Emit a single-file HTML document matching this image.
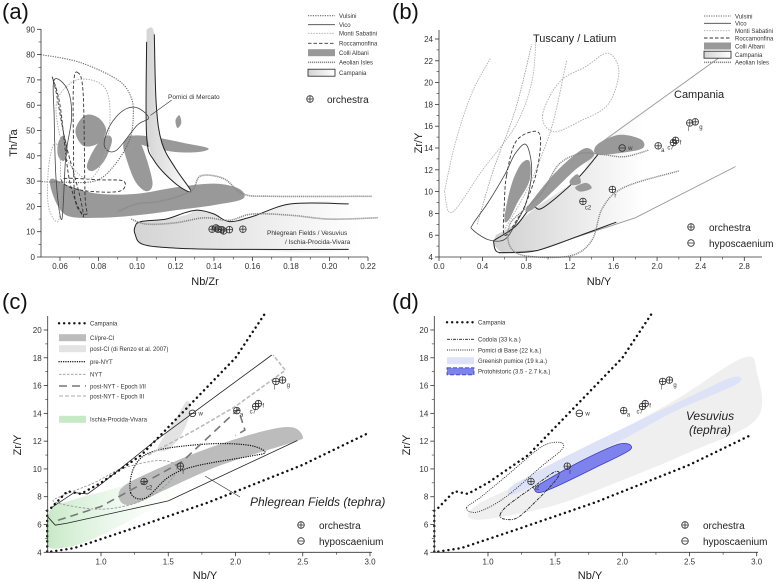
<!DOCTYPE html>
<html><head><meta charset="utf-8"><style>
html,body{margin:0;padding:0;background:#fff}
svg{display:block;font-family:"Liberation Sans",sans-serif}
</style></head><body>
<svg id="fig" width="779" height="582" viewBox="0 0 779 582" xmlns="http://www.w3.org/2000/svg">
<defs>
<linearGradient id="gCamp" x1="0" x2="1" y1="0" y2="0"><stop offset="0" stop-color="#d4d4d4"/><stop offset="1" stop-color="#ffffff"/></linearGradient>
<linearGradient id="gGreen" x1="0" x2="1" y1="0" y2="0"><stop offset="0" stop-color="#c6e9c6"/><stop offset="1" stop-color="#ffffff" stop-opacity="0"/></linearGradient>
<linearGradient id="gCampB" x1="0" x2="1" y1="0" y2="0"><stop offset="0" stop-color="#d0d0d0"/><stop offset="0.6" stop-color="#ffffff"/><stop offset="1" stop-color="#ffffff"/></linearGradient>
</defs>
<g id="layer"></g>
</svg>
<script>
// ---------- data ----------
var sampleNames = ['w','a','c7','f','l','g','r','c2'];
var sampleNbY = [1.68,2.01,2.15,2.17,2.30,2.35,1.59,1.32];
var sampleZrY = [14.0,14.2,14.5,14.7,16.3,16.4,10.2,9.1];
var sampleType = ['hypo','orch','orch','orch','orch','orch','orch','orch'];
var aNbZr = [0.139,0.141,0.142,0.144,0.145,0.148,0.155];
var aThTa = [11.0,11.5,11.0,10.8,10.3,10.8,11.0];
var aXTicks = [0.06,0.08,0.10,0.12,0.14,0.16,0.18,0.20,0.22];
var aYTicks = [0,10,20,30,40,50,60,70,80,90];
var bXTicks = [0.0,0.4,0.8,1.2,1.6,2.0,2.4,2.8];
var bYTicks = [4,6,8,10,12,14,16,18,20,22,24];
var cXTicks = [1.0,1.5,2.0,2.5,3.0];
var cYTicks = [4,6,8,10,12,14,16,18,20];

var NS='http://www.w3.org/2000/svg';
var layer=document.getElementById('layer');
function el(tag,attrs,parent){var e=document.createElementNS(NS,tag);for(var k in attrs)e.setAttribute(k,attrs[k]);(parent||layer).appendChild(e);return e;}
function txt(s,x,y,size,attrs,parent){var a={x:x,y:y,'font-size':size,fill:'#222'};for(var k in attrs)a[k]=attrs[k];var t=el('text',a,parent);t.textContent=s;return t;}
function axis(dx0,px0,dx1,px1,dy0,py0,dy1,py1){
  return {x:function(v){return px0+(v-dx0)*(px1-px0)/(dx1-dx0);},y:function(v){return py0+(v-dy0)*(py1-py0)/(dy1-dy0);}};
}
var A=axis(0.06,60,0.22,368,0,257,90,29.3);
var B=axis(0,439,2.8,744.3,4,257,24,39);
var C=axis(1.0,101,3.0,370,4,552.3,20,330);
var D=axis(1.0,488,3.0,756.7,4,552.3,20,330);
function smooth(ax,pts,closed){
  var p=pts.map(function(q){return [ax.x(q[0]),ax.y(q[1])];});
  var n=p.length,d='M'+p[0][0].toFixed(1)+' '+p[0][1].toFixed(1);
  var segs=closed?n:n-1;
  for(var i=0;i<segs;i++){
    var p0=p[closed?(i-1+n)%n:Math.max(i-1,0)],p1=p[i],p2=p[(i+1)%n],p3=p[closed?(i+2)%n:Math.min(i+2,n-1)];
    var c1=[p1[0]+(p2[0]-p0[0])/6,p1[1]+(p2[1]-p0[1])/6],c2=[p2[0]-(p3[0]-p1[0])/6,p2[1]-(p3[1]-p1[1])/6];
    d+='C'+c1[0].toFixed(1)+' '+c1[1].toFixed(1)+' '+c2[0].toFixed(1)+' '+c2[1].toFixed(1)+' '+p2[0].toFixed(1)+' '+p2[1].toFixed(1);
  }
  if(closed)d+='Z';return d;
}
function poly(ax,pts){return 'M'+pts.map(function(q){return ax.x(q[0]).toFixed(1)+' '+ax.y(q[1]).toFixed(1);}).join('L');}
function shape(name,d,style,parent){var a={d:d,fill:'none'};for(var k in style)a[k]=style[k];var e=el('path',a,parent);
  
  
  return e;}
function frame(name,ax,left,right,bottom,top,xt,yt,xfmt,yfmt){
  var g=el('g',{});
  
  
  el('line',{x1:left,y1:bottom,x2:right,y2:bottom,stroke:'#333','stroke-width':0.8},g);
  el('line',{x1:left,y1:bottom,x2:left,y2:top,stroke:'#333','stroke-width':0.8},g);
  xt.forEach(function(v){var x=ax.x(v);el('line',{x1:x,y1:bottom,x2:x,y2:bottom+4,stroke:'#333','stroke-width':0.8},g);
    txt(xfmt(v),x,bottom+12,8,{'text-anchor':'middle',fill:'#333'},g);});
  yt.forEach(function(v){var y=ax.y(v);el('line',{x1:left-4,y1:y,x2:left,y2:y,stroke:'#333','stroke-width':0.8},g);
    txt(yfmt(v),left-6,y+3,8,{'text-anchor':'end',fill:'#333'},g);});
  for(var i=0;i<xt.length-1;i++){var x=(ax.x(xt[i])+ax.x(xt[i+1]))/2;el('line',{x1:x,y1:bottom,x2:x,y2:bottom+2.5,stroke:'#333','stroke-width':0.6},g);}
  for(var j=0;j<yt.length-1;j++){var y=(ax.y(yt[j])+ax.y(yt[j+1]))/2;el('line',{x1:left-2.5,y1:y,x2:left,y2:y,stroke:'#333','stroke-width':0.6},g);}
  return g;
}
function sym(x,y,type,parent){
  var g=el('g',{},parent);
  el('circle',{cx:x,cy:y,r:3.3,fill:'none',stroke:'#333','stroke-width':0.8},g);
  el('line',{x1:x-3.3,y1:y,x2:x+3.3,y2:y,stroke:'#333','stroke-width':0.8},g);
  if(type==='orch')el('line',{x1:x,y1:y-3.3,x2:x,y2:y+3.3,stroke:'#333','stroke-width':0.8},g);
  return g;
}
var labOff={w:[6,2],a:[3,6],c7:[-6,7],f:[4,4],l:[-2,8],g:[4,7],r:[2,8],c2:[2,8]};
function samples(ax,name){
  var g=el('g',{});
  
  
  for(var i=0;i<sampleNames.length;i++){
    var x=ax.x(sampleNbY[i]),y=ax.y(sampleZrY[i]);
    var s=sym(x,y,sampleType[i],g);
    
    
    var o=labOff[sampleNames[i]];
    txt(sampleNames[i],x+o[0],y+o[1],6,{fill:'#333'},g);
  }
}
function symLegend(name,x,y){
  var g=el('g',{});
  
  
  sym(x,y,'orch',g);txt('orchestra',x+18,y+4,10,{fill:'#222'},g);
  sym(x,y+16,'hypo',g);txt('hyposcaenium',x+18,y+20,10,{fill:'#222'},g);
  return g;
}
function legRow(g,x,y,style,label,box){
  if(box){var r=el('rect',{x:x,y:y-3.5,width:27,height:7},g);for(var k in box)r.setAttribute(k,box[k]);}
  else{var a={x1:x,y1:y,x2:x+27,y2:y};for(var k2 in style)a[k2]=style[k2];el('line',a,g);}
  txt(label,x+31,y+2.3,6,{fill:'#333'},g);
}
var S={
  vuls:{stroke:'#666','stroke-width':1.1,'stroke-dasharray':'1.2 1.2'},
  vico:{stroke:'#444','stroke-width':0.8},
  sab:{stroke:'#aaa','stroke-width':0.9,'stroke-dasharray':'1.5 1.2'},
  rocca:{stroke:'#333','stroke-width':0.9,'stroke-dasharray':'3.5 2'},
  aeol:{stroke:'#888','stroke-width':1.6,'stroke-dasharray':'1.2 0.8'},
  camp:{stroke:'#222','stroke-width':1},
  campDot:{stroke:'#111','stroke-width':2.4,'stroke-dasharray':'0.1 5','stroke-linecap':'round'},
  fineDot:{stroke:'#111','stroke-width':1.3,'stroke-dasharray':'0.1 2.2','stroke-linecap':'round'},
  albani:{fill:'#999',stroke:'none'}
};

// ================= Panel A =================
txt('(a)',2,19,22,{fill:'#111'});
var gA=el('g',{});


shape('campania-lower-field',smooth(A,[[0.099,12],[0.102,14],[0.115,15],[0.125,16.5],[0.132,18.5],[0.14,17],[0.148,14],[0.16,16],[0.18,21],[0.21,20.5],[0.21,3],[0.15,3],[0.12,3.5],[0.103,5],[0.099,9]],true),{fill:'url(#gCamp)',stroke:'none'},gA);
shape('campania-lower-outline',smooth(A,[[0.21,3],[0.15,3],[0.12,3.5],[0.103,5],[0.099,9],[0.099,12],[0.102,14],[0.115,15],[0.125,17.5],[0.132,18.5],[0.14,17],[0.148,14],[0.16,16],[0.18,21],[0.21,21]],false),S.camp,gA);
shape('colli-albani-band',smooth(A,[[0.056,31],[0.065,28],[0.08,25],[0.1,25],[0.12,27.5],[0.14,29],[0.153,27],[0.155,23],[0.14,20.5],[0.12,18.5],[0.1,16.5],[0.08,15.5],[0.065,16],[0.059,20],[0.055,28]],true),S.albani,gA);
shape('colli-albani-blob1',smooth(A,[[0.068,50],[0.073,56],[0.08,55],[0.084,50],[0.08,45],[0.072,44]],true),S.albani,gA);
shape('colli-albani-blob2',smooth(A,[[0.074,36],[0.078,43],[0.084,48],[0.087,46],[0.083,38],[0.077,34]],true),S.albani,gA);
shape('colli-albani-blob3',smooth(A,[[0.093,45],[0.097,48],[0.102,45],[0.108,30],[0.105,26],[0.099,30],[0.094,40]],true),S.albani,gA);
shape('colli-albani-blob4',smooth(A,[[0.098,48],[0.108,47.5],[0.125,45],[0.137,43],[0.132,41.5],[0.12,41.5],[0.106,43.5],[0.098,46]],true),S.albani,gA);
shape('colli-albani-blob5',smooth(A,[[0.059,45],[0.062,48],[0.064,42],[0.062,38],[0.059,40]],true),S.albani,gA);
shape('colli-albani-blob6',smooth(A,[[0.12,54],[0.122,56],[0.123,53],[0.121,51]],true),S.albani,gA);
shape('pomici-di-mercato',smooth(A,[[0.105,90],[0.109,88],[0.11,60],[0.113,45],[0.12,35],[0.128,26],[0.12,29],[0.109,38],[0.105,48]],false)+'Z',{fill:'url(#gCamp)',stroke:'none'},gA);
shape('pomici-outline',smooth(A,[[0.105,85],[0.105,48],[0.109,38],[0.12,29],[0.128,26],[0.12,35],[0.113,45],[0.11,60],[0.109,88]],false),S.camp,gA);
shape('vulsini-line',smooth(A,[[0.05,80],[0.07,77],[0.09,70],[0.097,63],[0.098,55],[0.096,46],[0.088,36],[0.078,30],[0.06,29.6],[0.05,29.8]],false),S.vuls,gA);
shape('vico-loop',smooth(A,[[0.089,42],[0.1,52],[0.106,55],[0.1,59],[0.093,58],[0.086,52],[0.083,44]],true),S.vico,gA);
shape('vico-loop2',smooth(A,[[0.057,70],[0.064,66],[0.066,55],[0.063,40],[0.061,15],[0.058,30],[0.057,55]],true),S.vico,gA);
shape('rocca-loop1',smooth(A,[[0.056,71],[0.06,60],[0.065,30],[0.072,16],[0.07,25],[0.063,45],[0.058,65]],true),S.rocca,gA);
shape('rocca-loop2',smooth(A,[[0.069,73],[0.072,65],[0.073,25],[0.074,17],[0.068,22],[0.067,45],[0.067,68]],true),S.rocca,gA);
shape('rocca-loop3',smooth(A,[[0.062,31],[0.08,30.5],[0.093,30],[0.091,26],[0.075,26],[0.064,28]],true),S.rocca,gA);
shape('sabatini-loop',smooth(A,[[0.058,60],[0.066,69],[0.076,70],[0.084,66],[0.086,55],[0.083,40],[0.076,31],[0.068,34],[0.062,42]],true),S.sab,gA);
shape('sabatini-loop2',smooth(A,[[0.057,45],[0.06,40],[0.06,25],[0.059,14],[0.054,20],[0.054,35]],true),S.sab,gA);
shape('aeolian-upper',smooth(A,[[0.09,18],[0.1,21],[0.112,22],[0.128,26],[0.133,32],[0.145,31],[0.155,25],[0.17,24],[0.222,24]],false),S.aeol,gA);
shape('aeolian-lower',smooth(A,[[0.097,15],[0.105,13],[0.12,13.5],[0.135,15.5],[0.148,14.5],[0.16,17],[0.18,16.5],[0.2,15],[0.225,15.5]],false),S.aeol,gA);
frame('panel-a-axes',A,41,368,257,29,aXTicks,aYTicks,function(v){return v.toFixed(2);},function(v){return String(v);});
el('line',{x1:A.x(0.107),y1:A.y(56),x2:A.x(0.118),y2:A.y(62),stroke:'#333','stroke-width':0.6},gA);
txt('Pomici di Mercato',168,99,6.5,{fill:'#333'},gA);
txt('Phlegrean Fields / Vesuvius',267,235,6.5,{fill:'#333'},gA);
txt('/ Ischia-Procida-Vivara',285,244,6.5,{fill:'#333'},gA);
for(var i=0;i<aNbZr.length;i++){var s=sym(A.x(aNbZr[i]),A.y(aThTa[i]),'orch',gA);
  
  }
txt('Nb/Zr',205,285,11,{'text-anchor':'middle'});
txt('Th/Ta',0,0,11,{'text-anchor':'middle',transform:'translate(17,143) rotate(-90)'});
var lA=el('g',{});


legRow(lA,308,15.7,S.vuls,'Vulsini');legRow(lA,308,24.7,S.vico,'Vico');legRow(lA,308,33.3,S.sab,'Monti Sabatini');
legRow(lA,308,43.3,S.rocca,'Roccamonfina');legRow(lA,308,52.7,null,'Colli Albani',{fill:'#999'});
legRow(lA,308,62.3,S.aeol,'Aeolian Isles');legRow(lA,308,72.7,null,'Campania',{fill:'url(#gCamp)',stroke:'#222','stroke-width':0.8});
var oA=el('g',{});


sym(310,99,'orch',oA);txt('orchestra',327,103,10,{},oA);

// ================= Panel B =================
txt('(b)',392,19,22,{fill:'#111'});
var gB=el('g',{});


shape('campania-field',smooth(B,[[0.5,5.2],[0.6,4.4],[0.9,4.7],[1.3,6],[1.8,7.6],[2.72,12.3],[2.6,22.5],[1.5,14.5],[1.3,11.5],[0.9,8.6],[0.7,7],[0.52,6]],false)+'Z',{fill:'url(#gCampB)',stroke:'none'},gB);
shape('campania-lower-line',poly(B,[[0.55,4.35],[0.9,4.6],[1.3,5.95],[1.8,7.6],[2.72,12.3]]),{stroke:'#999','stroke-width':0.9},gB);
shape('campania-upper-line',poly(B,[[1.5,14.6],[2.6,22.5]]),{stroke:'#999','stroke-width':0.9},gB);
shape('campania-outline',smooth(B,[[0.5,5.5],[0.52,4.6],[0.6,4.4],[0.9,4.6],[1.3,6],[1.6,7.1],[1.6,7.1]],false)+smooth(B,[[0.5,5.5],[0.7,6.8],[0.85,8.6],[0.95,8.5],[1.25,11],[1.45,13.3],[1.55,14.6]],false),S.camp,gB);
shape('colli-albani-a',smooth(B,[[0.6,7.5],[0.66,10.5],[0.75,12.5],[0.83,12.8],[0.83,11],[0.72,9],[0.64,7.4]],true),S.albani,gB);
shape('colli-albani-b',smooth(B,[[0.8,8.4],[1.0,11],[1.2,13],[1.35,14],[1.42,13.3],[1.25,12],[1.0,9.6],[0.85,8.3]],true),S.albani,gB);
shape('colli-albani-c',smooth(B,[[1.45,14.3],[1.65,15.2],[1.85,14.8],[1.87,14],[1.7,13.6],[1.45,13.4]],true),S.albani,gB);
shape('colli-albani-d',smooth(B,[[1.2,11],[1.27,11.6],[1.3,10.8],[1.22,10.6]],true),S.albani,gB);
shape('colli-albani-e',smooth(B,[[1.25,10.4],[1.35,10.8],[1.4,10.3],[1.3,10]],true),S.albani,gB);
shape('vulsini-b1',smooth(B,[[0.05,10],[0.12,8.1],[0.4,12],[0.7,16],[0.85,20],[0.89,24]],false),{stroke:'#aaa','stroke-width':0.8,'stroke-dasharray':'1.5 1'},gB);
shape('vulsini-b2',smooth(B,[[0.05,10],[0.15,14.5],[0.3,19],[0.47,22.2]],false),{stroke:'#aaa','stroke-width':0.8,'stroke-dasharray':'1.5 1'},gB);
shape('vulsini-b3',smooth(B,[[0.35,7],[0.5,12],[0.7,17.5],[0.85,23.5]],false),{stroke:'#999','stroke-width':0.8,'stroke-dasharray':'1.5 1'},gB);
shape('sabatini-b',smooth(B,[[0.95,17],[1.1,20],[1.35,21.5],[1.55,22.7],[1.65,21],[1.55,18],[1.3,16.5],[1.05,15.5]],true),S.sab,gB);
shape('sabatini-b2',smooth(B,[[1.17,22],[1.05,16.5],[0.93,13],[0.8,10],[0.6,6.5]],false),S.sab,gB);
shape('vico-b',smooth(B,[[0.31,7],[0.45,9],[0.6,11.5],[0.7,13.5],[0.8,14.3],[0.85,12],[0.8,9],[0.7,7],[0.6,5.6],[0.45,5.6],[0.31,6.5]],true),S.vico,gB);
shape('rocca-b',smooth(B,[[0.62,11.5],[0.7,14.5],[0.85,15.5],[0.93,15],[0.9,12],[0.8,9],[0.72,7.5],[0.6,6],[0.6,9]],true),S.rocca,gB);
shape('aeolian-b',smooth(B,[[1.92,13.8],[1.7,13.2],[1.5,13.4],[1.3,13.5],[1.1,12.5],[0.95,10],[0.8,8.5],[0.65,7],[0.65,5],[0.8,4.1],[1.2,4.1],[1.4,5.5],[1.5,8.5],[1.7,10.4],[2.2,11.9]],false),{stroke:'#888','stroke-width':1.4,'stroke-dasharray':'1.2 0.8'},gB);
frame('panel-b-axes',B,439,762,257,30,bXTicks,bYTicks,function(v){return v.toFixed(1);},function(v){return String(v);});
samples(B,'panel-b-samples');
txt('Tuscany / Latium',533,42,11,{});
txt('Campania',674,98,11,{});
txt('Nb/Y',599,285,11,{'text-anchor':'middle'});
txt('Zr/Y',0,0,11,{'text-anchor':'middle',transform:'translate(422,143) rotate(-90)'});
var lB=el('g',{});


legRow(lB,704,16,S.vuls,'Vulsini');legRow(lB,704,23.3,S.vico,'Vico');legRow(lB,704,30.7,S.sab,'Monti Sabatini');
legRow(lB,704,38,S.rocca,'Roccamonfina');legRow(lB,704,46,null,'Colli Albani',{fill:'#999'});
legRow(lB,704,54.7,null,'Campania',{fill:'url(#gCamp)',stroke:'#222','stroke-width':0.8});legRow(lB,704,62.3,S.aeol,'Aeolian Isles');
symLegend('panel-b-symbol-legend',691,227);

// ================= Panel C =================
txt('(c)',2,309,22,{fill:'#111'});
var gC=el('g',{});


shape('ischia-procida-vivara',smooth(C,[[0.6,4.6],[0.62,7],[0.8,7.8],[1.1,8.6],[1.4,9.6],[1.65,10.5],[1.75,9.5],[1.5,7.8],[1.2,6.2],[0.9,4.8],[0.7,4.3]],true),{fill:'url(#gGreen)',stroke:'none'},gC);
shape('post-ci-field',smooth(C,[[1.42,11.5],[1.55,13.5],[1.64,14.9],[1.66,14],[1.6,12.5],[1.5,11.4]],true),{fill:'#e3e3e3',stroke:'none'},gC);
shape('ci-pre-ci-field',smooth(C,[[1.15,7.6],[1.15,8.6],[1.35,9.7],[1.8,11.5],[2.2,12.7],[2.42,13],[2.5,12.3],[2.42,11.9],[1.9,10.3],[1.5,8.6],[1.25,7.5]],true),{fill:'#bcbcbc',stroke:'none'},gC);
shape('solid-envelope',poly(C,[[0.6,6.6],[0.66,5.95],[0.75,6.1],[1.5,7.7],[2.46,12.05]]),{stroke:'#222','stroke-width':0.8},gC);
shape('solid-envelope-upper',poly(C,[[0.63,7.2],[0.8,8.3],[0.9,8.2],[1.0,8.9],[1.4,12],[2.27,18.2]]),{stroke:'#222','stroke-width':0.8},gC);
shape('pre-nyt',smooth(C,[[1.22,8.3],[1.25,10.2],[1.4,11.3],[1.8,11.8],[2.1,11.7],[2.22,11.2],[2.1,10.9],[1.7,10.2],[1.5,9.4],[1.33,7.9]],true),S.fineDot,gC);
shape('nyt',smooth(C,[[0.66,7.6],[1.0,7.1],[1.3,7.7],[1.5,9],[1.56,10.2],[1.42,10.6],[1.15,10],[0.95,9],[0.72,8.1]],true),{stroke:'#999','stroke-width':0.9,'stroke-dasharray':'2.5 1.5'},gC);
shape('post-nyt-i-ii',poly(C,[[0.68,6.3],[1.0,7.3],[1.6,10.5],[2.02,14.3],[2.07,12.8],[2.0,12.4]]),{stroke:'#777','stroke-width':1.6,'stroke-dasharray':'8 5'},gC);
shape('post-nyt-iii',poly(C,[[1.35,11],[1.7,12.8],[2.0,14.5],[2.37,17.1],[2.28,18.2]]),{stroke:'#bbb','stroke-width':1.6,'stroke-dasharray':'4 2'},gC);
shape('campania-upper',poly(C,[[0.6,4.05],[0.6,7],[0.63,7.2],[0.75,8.4],[0.85,8.2],[1.0,9],[1.3,11],[1.6,14],[2.0,18],[2.22,21.2]]),S.campDot,gC);
shape('campania-lower',poly(C,[[0.63,4.05],[0.8,4.3],[1.2,5.6],[1.8,7.6],[2.5,10.3],[2.97,12.5]]),S.campDot,gC);
frame('panel-c-axes',C,47.7,372,552.3,316,cXTicks,cYTicks,function(v){return v.toFixed(1);},function(v){return String(v);});
samples(C,'panel-c-samples');
el('line',{x1:205,y1:476,x2:240,y2:497,stroke:'#333','stroke-width':0.7},gC);
txt('Phlegrean Fields (tephra)',250,506,12,{'font-style':'italic'},gC);
txt('Nb/Y',205,579,11,{'text-anchor':'middle'});
txt('Zr/Y',0,0,11,{'text-anchor':'middle',transform:'translate(21,445) rotate(-90)'});
var lC=el('g',{});


legRow(lC,59,323.3,S.campDot,'Campania');legRow(lC,59,337.7,null,'CI/pre-CI',{fill:'#bcbcbc'});
legRow(lC,59,348.7,null,'post-CI (di Renzo et al. 2007)',{fill:'#e3e3e3'});legRow(lC,59,361.7,S.fineDot,'pre-NYT');
legRow(lC,59,374.3,{stroke:'#999','stroke-width':0.9,'stroke-dasharray':'2.5 1.5'},'NYT');
legRow(lC,59,386,{stroke:'#777','stroke-width':1.6,'stroke-dasharray':'8 5'},'post-NYT - Epoch I/II');
legRow(lC,59,396,{stroke:'#bbb','stroke-width':1.2,'stroke-dasharray':'4 2'},'post-NYT - Epoch III');
legRow(lC,59,419.3,null,'Ischia-Procida-Vivara',{fill:'#c6e9c6'});
symLegend('panel-c-symbol-legend',301,525);

// ================= Panel D =================
txt('(d)',392,309,22,{fill:'#111'});
var gD=el('g',{});


shape('vesuvius-field',smooth(D,[[0.85,6.6],[0.95,7.6],[1.3,9.2],[1.8,11.8],[2.4,15],[2.9,18],[3.0,17],[3.0,13.6],[2.5,11.2],[2.0,9.2],[1.5,7.4],[1.0,6.4]],true),{fill:'#efefef',stroke:'none'},gD);
shape('greenish-pumice',smooth(D,[[1.15,8.5],[1.25,9.2],[1.6,11],[2.0,12.9],[2.5,15.2],[2.82,16.6],[2.85,16.1],[2.4,14.2],[2.0,12.1],[1.5,9.6],[1.2,8.2]],true),{fill:'#dde2f7',stroke:'none'},gD);
shape('protohistoric',smooth(D,[[1.35,8.6],[1.42,9.1],[1.7,10.6],[1.98,11.8],[2.06,11.4],[1.8,10.1],[1.5,8.7],[1.38,8.3]],true),{fill:'#7d82ec',stroke:'#3b3fbf','stroke-width':0.8},gD);
shape('pomici-di-base',smooth(D,[[0.84,7.2],[0.95,8],[1.15,9.6],[1.4,11.6],[1.54,11.9],[1.55,11.4],[1.4,10.2],[1.12,7.9],[0.92,6.9]],true),{stroke:'#222','stroke-width':0.9,'stroke-dasharray':'1 1.2'},gD);
shape('codola',smooth(D,[[1.09,6.7],[1.15,7.4],[1.35,8.8],[1.5,9.8],[1.52,9.4],[1.38,7.9],[1.22,6.5],[1.12,6.4]],true),{stroke:'#222','stroke-width':0.9,'stroke-dasharray':'3 1 1 1'},gD);
shape('campania-upper-d',poly(D,[[0.6,4.05],[0.6,7],[0.63,7.2],[0.75,8.4],[0.85,8.2],[1.0,9],[1.3,11],[1.6,14],[2.0,18],[2.22,21.2]]),S.campDot,gD);
shape('campania-lower-d',poly(D,[[0.63,4.05],[0.8,4.3],[1.2,5.6],[1.8,7.6],[2.5,10.3],[2.97,12.5]]),S.campDot,gD);
frame('panel-d-axes',D,434.3,758,552.3,316,cXTicks,cYTicks,function(v){return v.toFixed(1);},function(v){return String(v);});
samples(D,'panel-d-samples');
txt('Vesuvius',710,420,12,{'font-style':'italic','text-anchor':'middle'},gD);
txt('(tephra)',710,434,12,{'font-style':'italic','text-anchor':'middle'},gD);
txt('Nb/Y',590,579,11,{'text-anchor':'middle'});
txt('Zr/Y',0,0,11,{'text-anchor':'middle',transform:'translate(410,445) rotate(-90)'});
var lD=el('g',{});


legRow(lD,447,322.3,S.campDot,'Campania');
legRow(lD,447,339.3,{stroke:'#222','stroke-width':0.9,'stroke-dasharray':'3 1 1 1'},'Codola (33 k.a.)');
legRow(lD,447,350,{stroke:'#222','stroke-width':0.9,'stroke-dasharray':'1 1.2'},'Pomici di Base (22 k.a.)');
legRow(lD,447,360.7,null,'Greenish pumice (19 k.a.)',{fill:'#dde2f7'});
legRow(lD,447,371.3,null,'Protohistoric (3.5 - 2.7 k.a.)',{fill:'#7d82ec',stroke:'#3b3fbf','stroke-width':0.8,'stroke-dasharray':'4 2'});
symLegend('panel-d-symbol-legend',685,525);
</script>
</body></html>
